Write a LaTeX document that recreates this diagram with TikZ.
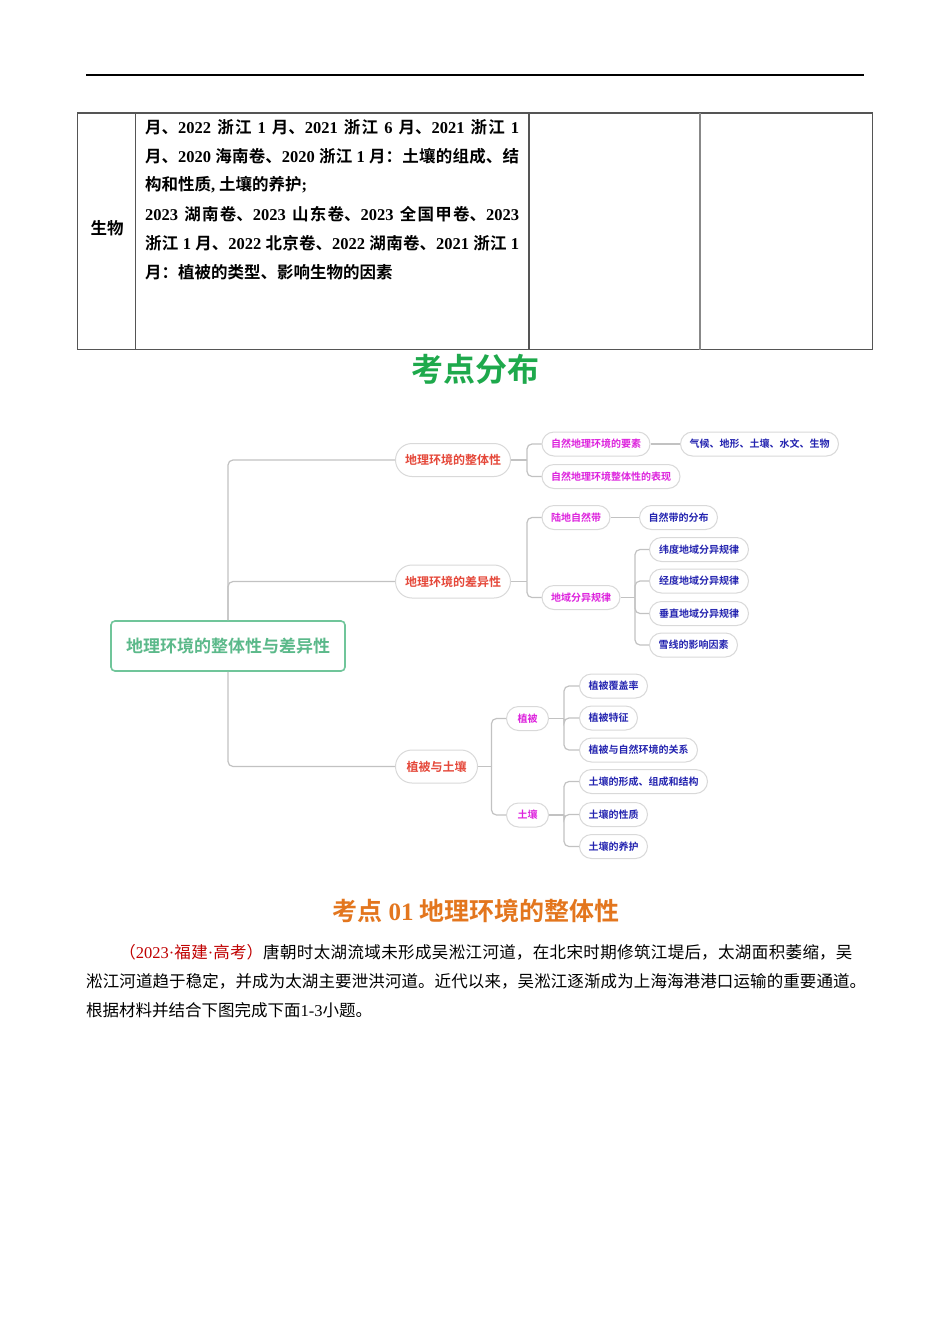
\documentclass[tikz,border=0pt]{standalone}
\usepackage{fontspec}
\setmainfont{Noto Sans CJK SC}[BoldFont={Noto Sans CJK SC Bold}]
\newfontfamily\tnr{Liberation Serif}
\XeTeXlinebreaklocale "zh"
\XeTeXlinebreakskip=0pt plus 1pt
\definecolor{pillc}{HTML}{D9D9D9}
\definecolor{connc}{HTML}{C2C2C2}
\definecolor{redc}{HTML}{E5483A}
\definecolor{magc}{HTML}{DD22DD}
\definecolor{bluec}{HTML}{2424B0}
\definecolor{rootc}{HTML}{70C59A}
\definecolor{roottext}{HTML}{5BB98A}
\definecolor{titlegreen}{HTML}{1EA94C}
\definecolor{orangec}{HTML}{E3761E}
\definecolor{parred}{HTML}{C00000}
\definecolor{tblc}{HTML}{555555}
\newcommand\dg[1]{{\tnr #1}}
\newcommand\fs[1]{\fontsize{#1}{#1}\selectfont}
\newcommand\jline[2]{\parbox{#1}{\tolerance=10000\hbadness=10000\parindent=0pt\parfillskip=0pt\relax #2}}
\begin{document}
\begin{tikzpicture}[x=1pt,y=-1pt,
  conn/.style={draw=connc, line width=1.2pt, rounded corners=5pt},
  pillbase/.style={draw=pillc, line width=1pt, rounded corners=12pt, minimum height=24pt, inner sep=0pt, anchor=west, font=\fs{10}\bfseries},
  pillM/.style={pillbase, text=magc},
  pillB/.style={pillbase, text=bluec},
  pillL/.style={draw=pillc, line width=1pt, rounded corners=16.5pt, minimum height=33pt, inner sep=0pt, anchor=west, font=\fs{12}\bfseries, text=redc},
  rootbox/.style={draw=rootc, line width=1.6pt, rounded corners=4pt, minimum width=234pt, minimum height=50pt, inner sep=0pt, font=\fs{17}\bfseries, text=roottext},
  tline/.style={anchor=west, inner sep=0pt, font=\fs{16.5}\bfseries},
  pline/.style={anchor=west, inner sep=0pt, font=\fs{16.5}},
  tbl/.style={draw=tblc, line width=1.2pt}
]
\useasboundingbox (0,0) rectangle (950,1344);
\fill[white] (0,0) rectangle (950,1344);

% header rule
\draw[line width=1.2pt] (86,75) -- (864,75);

% table
\draw[tbl] (77.5,113) rectangle (872.5,349.5);
\draw[tbl] (135.5,113) -- (135.5,349.5);
\draw[tbl] (529,113) -- (529,349.5);
\draw[tbl, draw=tblc!70] (700,113) -- (700,349.5);

\node[font=\fs{16.5}\bfseries, inner sep=0pt] (sw) at (107,228) {生物};
\node[tline] (t1) at (145,127) {\jline{374pt}{月、\dg{2022} 浙江 \dg{1} 月、\dg{2021} 浙江 \dg{6} 月、\dg{2021} 浙江 \dg{1}}};
\node[tline] (t2) at (145,156) {\jline{374pt}{月、\dg{2020} 海南卷、\dg{2020} 浙江 \dg{1} 月：土壤的组成、结}};
\node[tline] (t3) at (145,185) {构和性质\dg{,} 土壤的养护\dg{;}};
\node[tline] (t4) at (145,214) {\jline{374pt}{\dg{2023} 湖南卷、\dg{2023} 山东卷、\dg{2023} 全国甲卷、\dg{2023}}};
\node[tline] (t5) at (145,243) {\jline{374pt}{浙江 \dg{1} 月、\dg{2022} 北京卷、\dg{2022} 湖南卷、\dg{2021} 浙江 \dg{1}}};
\node[tline] (t6) at (145,272) {月：植被的类型、影响生物的因素};

% title
\node[font=\fs{32}\bfseries, text=titlegreen, inner sep=0pt] (title) at (475,369) {考点分布};

% mind map
\node[rootbox] (root) at (228,646) {地理环境的整体性与差异性};

\node[pillL, minimum width=115pt] (l1a) at (395,460) {地理环境的整体性};
\node[pillL, minimum width=115pt] (l1b) at (395,581.5) {地理环境的差异性};
\node[pillL, minimum width=82pt] (l1c) at (395,766.5) {植被与土壤};

\node[pillM, minimum width=108pt] (l2a) at (541.5,444) {自然地理环境的要素};
\node[pillB, minimum width=158pt] (l3a) at (680,444) {气候、地形、土壤、水文、生物};
\node[pillM, minimum width=138pt] (l2b) at (541.5,476.5) {自然地理环境整体性的表现};
\node[pillM, minimum width=68pt] (l2c) at (541.5,517.5) {陆地自然带};
\node[pillB, minimum width=78pt] (l3b) at (639,517.5) {自然带的分布};
\node[pillM, minimum width=78pt] (l2d) at (541.5,597.5) {地域分异规律};
\node[pillB, minimum width=99pt] (l3c) at (649,549.5) {纬度地域分异规律};
\node[pillB, minimum width=99pt] (l3d) at (649,581) {经度地域分异规律};
\node[pillB, minimum width=99pt] (l3e) at (649,613.5) {垂直地域分异规律};
\node[pillB, minimum width=88pt] (l3f) at (649,645) {雪线的影响因素};

\node[pillM, minimum width=42pt] (l2e) at (506,718.5) {植被};
\node[pillM, minimum width=42pt] (l2f) at (506,815) {土壤};
\node[pillB, minimum width=68pt] (l3g) at (579,686) {植被覆盖率};
\node[pillB, minimum width=58pt] (l3h) at (579,718) {植被特征};
\node[pillB, minimum width=118pt] (l3i) at (579,750) {植被与自然环境的关系};
\node[pillB, minimum width=128pt] (l3j) at (579,781.5) {土壤的形成、组成和结构};
\node[pillB, minimum width=68pt] (l3k) at (579,814.5) {土壤的性质};
\node[pillB, minimum width=68pt] (l3l) at (579,846.5) {土壤的养护};

% trunk
\draw[conn] (root.north) |- (l1a.west);
\draw[conn] (root.north) |- (l1b.west);
\draw[conn] (root.south) |- (l1c.west);

% brackets
\coordinate (b1) at (527,460);
\draw[conn] (l1a.east) -- (b1);
\draw[conn] (b1) |- (l2a.west);
\draw[conn] (b1) |- (l2b.west);
\draw[conn] (l2a.east) -- (l3a.west);

\coordinate (b2) at (527,581.5);
\draw[conn] (l1b.east) -- (b2);
\draw[conn] (b2) |- (l2c.west);
\draw[conn] (b2) |- (l2d.west);
\draw[conn] (l2c.east) -- (l3b.west);

\coordinate (b3) at (635,597.5);
\draw[conn] (l2d.east) -- (b3);
\draw[conn] (b3) |- (l3c.west);
\draw[conn] (b3) |- (l3d.west);
\draw[conn] (b3) |- (l3e.west);
\draw[conn] (b3) |- (l3f.west);

\coordinate (b4) at (491.5,766.5);
\draw[conn] (l1c.east) -- (b4);
\draw[conn] (b4) |- (l2e.west);
\draw[conn] (b4) |- (l2f.west);

\coordinate (b5) at (564,718.5);
\draw[conn] (l2e.east) -- (b5);
\draw[conn] (b5) |- (l3g.west);
\draw[conn] (b5) |- (l3h.west);
\draw[conn] (b5) |- (l3i.west);

\coordinate (b6) at (564,815);
\draw[conn] (l2f.east) -- (b6);
\draw[conn] (b6) |- (l3j.west);
\draw[conn] (b6) |- (l3k.west);
\draw[conn] (b6) |- (l3l.west);

% section title
\node[font=\fs{25}\bfseries, text=orangec, inner sep=0pt] (sec) at (476,911) {考点 \dg{\bfseries 01} 地理环境的整体性};

% paragraph
\node[pline] (p1) at (119.2,952) {\jline{733pt}{\textcolor{parred}{（\dg{2023}\dg{·}福建\dg{·}高考）}唐朝时太湖流域未形成吴淞江河道，在北宋时期修筑江堤后，太湖面积萎缩，吴}};
\node[pline] (p2) at (86,981) {\jline{780pt}{淞江河道趋于稳定，并成为太湖主要泄洪河道。近代以来，吴淞江逐渐成为上海海港港口运输的重要通道。}};
\node[pline] (p3) at (86,1010) {根据材料并结合下图完成下面\dg{1-3}小题。};
\end{tikzpicture}
\end{document}
